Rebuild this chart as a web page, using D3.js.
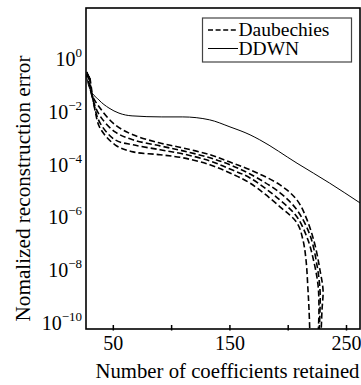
<!DOCTYPE html>
<html><head><meta charset="utf-8">
<script src="https://cdn.jsdelivr.net/npm/d3@7/dist/d3.min.js"></script>
<style>
body{margin:0;background:#fff;}
svg text{font-family:"Liberation Serif","Times New Roman",serif !important;fill:#000;}
</style></head>
<body><svg id="c" width="361" height="385"></svg>
<script>
// ---- data ----
const xTicks = [50, 100, 150, 200, 250];
const xTickLabels = ["50", "", "150", "", "250"];
const yTicks = [1e0, 1e-2, 1e-4, 1e-6, 1e-8, 1e-10];
const yTickExp = ["0", "\u22122", "\u22124", "\u22126", "\u22128", "\u221210"];
const legendLabels = ["Daubechies", "DDWN"];

const ddwnX = [27, 29.6, 38, 46.7, 55.3, 66.5, 92, 110, 133, 150.5, 167.7, 176, 208, 236, 262];
const ddwnY = [5.0e-1, 1.6e-1, 5.1e-2, 2.5e-2, 1.6e-2, 1.26e-2, 1.15e-2, 1.15e-2, 8.9e-3, 4.8e-3, 2.4e-3, 1.55e-3, 2.0e-4, 3.5e-5, 6.2e-6];

const daub1X = [27.9, 32.1, 39, 51.9, 67.3, 90.5, 110.2, 133.3, 150.5, 167.7, 193.4, 208, 216.6, 223.4, 227.7, 230.3, 229.4, 228.5];
const daub1Y = [5.9e-1, 7.9e-2, 2.5e-2, 5.8e-3, 2.4e-3, 1.17e-3, 7.6e-4, 4.2e-4, 2.2e-4, 1.12e-4, 3.0e-5, 7.9e-6, 1.4e-6, 1.55e-7, 1.7e-8, 3.0e-9, 5.2e-10, 5e-11];
const daub2X = [28.7, 33, 39, 51.9, 67.3, 90.5, 110.2, 133.3, 150.5, 167.7, 193.4, 208, 219.1, 225.1, 227.7, 227.7, 226.8];
const daub2Y = [5.0e-1, 5.1e-2, 1.26e-2, 3.1e-3, 1.55e-3, 9.1e-4, 5.9e-4, 3.2e-4, 1.74e-4, 7.8e-5, 1.5e-5, 3.3e-6, 3.7e-7, 2.7e-8, 3.0e-9, 5.2e-10, 5e-11];
const daub3X = [29.6, 33.9, 39, 51.9, 67.3, 90.5, 110.2, 133.3, 150.5, 167.7, 193.4, 208, 217.4, 222.5, 226, 226.8, 226];
const daub3Y = [4.2e-1, 3.3e-2, 6.8e-3, 1.55e-3, 1.0e-3, 6.5e-4, 4.5e-4, 2.45e-4, 1.2e-4, 5.5e-5, 7.9e-6, 1.8e-6, 2.4e-7, 3.5e-8, 4.7e-9, 5.2e-10, 5e-11];
const daub4X = [30.4, 34.7, 39, 51.9, 67.3, 90.5, 110.2, 133.3, 150.5, 167.7, 193.4, 208, 213.1, 215.7, 217.4, 218.3, 219.1];
const daub4Y = [3.5e-1, 2.1e-2, 4.4e-3, 1.0e-3, 5.4e-4, 4.2e-4, 3.2e-4, 1.74e-4, 8.5e-5, 3.5e-5, 4.4e-6, 1.07e-6, 2.4e-7, 4.2e-8, 3.0e-9, 5.2e-10, 5e-11];

// ---- layout ----
const L = 86, R = 360, T = 8, B = 329;
const svg = d3.select("#c");
const x = d3.scaleLinear().domain([27, 262]).range([L, R]);
const y = d3.scaleLog().domain([1e-10, Math.pow(10, 2.2)]).range([B, T]);

svg.append("defs").append("clipPath").attr("id", "clip")
  .append("rect").attr("x", L).attr("y", T).attr("width", R - L).attr("height", B - T);

const zip = (xs, ys) => xs.map((v, i) => [v, ys[i]]);
const lineM = d3.line().x(d => x(d[0])).y(d => y(d[1])).curve(d3.curveMonotoneX);
const lineC = d3.line().x(d => x(d[0])).y(d => y(d[1])).curve(d3.curveCatmullRom.alpha(0.5));

const g = svg.append("g").attr("clip-path", "url(#clip)");
g.append("path").attr("d", lineM(zip(ddwnX, ddwnY)))
  .attr("fill", "none").attr("stroke", "#000").attr("stroke-width", 1);
[[daub1X, daub1Y], [daub2X, daub2Y], [daub3X, daub3Y], [daub4X, daub4Y]].forEach(([xs, ys]) => {
  g.append("path").attr("d", lineC(zip(xs, ys)))
    .attr("fill", "none").attr("stroke", "#000").attr("stroke-width", 1.6)
    .attr("stroke-dasharray", "6,3");
});

// frame
svg.append("rect").attr("x", L).attr("y", T).attr("width", R - L).attr("height", B - T)
  .attr("fill", "none").attr("stroke", "#000").attr("stroke-width", 1.6);

// x axis
const xa = svg.append("g").attr("transform", `translate(0,${B})`)
  .call(d3.axisBottom(x).tickValues(xTicks).tickSize(-4).tickPadding(7)
    .tickFormat((d, i) => xTickLabels[i]));
xa.attr("font-family", null);
xa.select(".domain").remove();
xa.selectAll(".tick line").attr("stroke", "#000").attr("stroke-width", 1.5).attr("y2", -4).attr("y1", 1.5);
xa.selectAll(".tick text").attr("font-size", 20).attr("fill", "#000");

// y tick labels
yTicks.forEach((t, i) => {
  const tx = svg.append("text").attr("x", 82).attr("y", y(t) + 0.5)
    .attr("text-anchor", "end").attr("font-size", 20);
  tx.append("tspan").text("10");
  tx.append("tspan").attr("font-size", 13).attr("dy", -9).text(yTickExp[i]);
});

// axis titles
svg.append("text").attr("x", 227.5).attr("y", 378).attr("text-anchor", "middle")
  .attr("font-size", 20.8).attr("textLength", 264).attr("lengthAdjust", "spacingAndGlyphs")
  .text("Number of coefficients retained");
svg.append("text").attr("transform", "translate(30,188.5) rotate(-90)")
  .attr("text-anchor", "middle").attr("font-size", 21).attr("textLength", 266).attr("lengthAdjust", "spacingAndGlyphs")
  .text("Nomalized reconstruction error");

// legend
const lg = svg.append("g");
lg.append("rect").attr("x", 202.5).attr("y", 18).attr("width", 149).attr("height", 44)
  .attr("fill", "#fff").attr("stroke", "#444").attr("stroke-width", 1.2);
lg.append("line").attr("x1", 208).attr("x2", 238).attr("y1", 30).attr("y2", 30)
  .attr("stroke", "#000").attr("stroke-width", 1.6).attr("stroke-dasharray", "5,2.6");
lg.append("line").attr("x1", 208).attr("x2", 238).attr("y1", 48.5).attr("y2", 48.5)
  .attr("stroke", "#000").attr("stroke-width", 1);
lg.append("text").attr("x", 238.5).attr("y", 35.5).attr("font-size", 19.5).text(legendLabels[0]);
lg.append("text").attr("x", 238.5).attr("y", 54.5).attr("font-size", 19.5).text(legendLabels[1]);
</script></body></html>
